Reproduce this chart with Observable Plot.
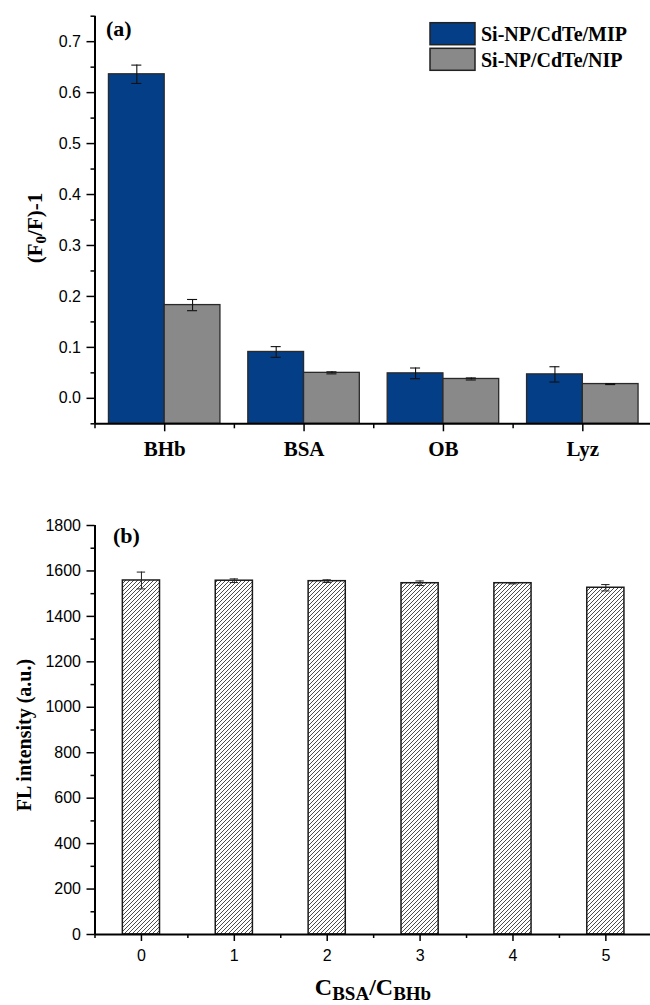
<!DOCTYPE html>
<html>
<head>
<meta charset="utf-8">
<script src="https://cdn.jsdelivr.net/npm/d3@7"></script>
<script src="https://cdn.jsdelivr.net/npm/@observablehq/plot@0.6"></script>
<style>
  html, body { margin: 0; padding: 0; background: #fff; }
  #wrap { position: relative; width: 650px; height: 1005px; overflow: hidden; }
  #chartA, #chartB, #overlay { position: absolute; left: 0; }
  #chartA { top: 0; }
  #chartB { top: 490px; }
  #overlay { top: 0; pointer-events: none; }
  .serif { font-family: "Liberation Serif", "Times New Roman", serif; font-weight: bold; }
</style>
</head>
<body>
<div id="wrap">
  <div id="chartA"></div>
  <div id="chartB"></div>
  <svg id="overlay" width="650" height="1005"></svg>
</div>
<script>
// Panel (a): selectivity of imprinted vs non-imprinted sensor
const proteins = ["BHb", "BSA", "OB", "Lyz"];
const seriesNames = ["Si-NP/CdTe/MIP", "Si-NP/CdTe/NIP"];
const seriesColors = ["#043e86", "#898989"];
const mipValues = [0.636, 0.091, 0.049, 0.047];
const mipErrors = [0.018, 0.0105, 0.0105, 0.015];
const nipValues = [0.183, 0.050, 0.038, 0.028];
const nipErrors = [0.011, 0.002, 0.002, 0.001];
const yTicksA = [0, 0.1, 0.2, 0.3, 0.4, 0.5, 0.6, 0.7];
const yMinorA = [-0.05, 0.05, 0.15, 0.25, 0.35, 0.45, 0.55, 0.65, 0.75];

// Panel (b): fluorescence intensity with increasing BSA
const ratios = [0, 1, 2, 3, 4, 5];
const flValues = [1558, 1557, 1555, 1546, 1546, 1526];
const flErrors = [37, 8, 6, 10, 3, 14];
const yTicksB = [0, 200, 400, 600, 800, 1000, 1200, 1400, 1600, 1800];
const yMinorB = [100, 300, 500, 700, 900, 1100, 1300, 1500, 1700];

const sansFont = "'Liberation Sans', Arial, sans-serif";
const serifFont = "'Liberation Serif', 'Times New Roman', serif";
const tickFontSize = 16;

// Rows for the grouped bars: MIP on the left half of each group, NIP on the right
const rowsA = [];
proteins.forEach((p, i) => {
  rowsA.push({i, series: seriesNames[0], v: mipValues[i], e: mipErrors[i], x1: i - 0.4, x2: i, c: i - 0.2});
  rowsA.push({i, series: seriesNames[1], v: nipValues[i], e: nipErrors[i], x1: i, x2: i + 0.4, c: i + 0.2});
});
const yMinA = -0.05, yMaxA = 0.75;
const capA = 0.036;

const chartA = Plot.plot({
  width: 650,
  height: 480,
  marginLeft: 94.5,
  marginRight: -2,
  marginTop: 15.7,
  marginBottom: 56.7,
  x: {domain: [-0.5, proteins.length - 0.5]},
  y: {domain: [yMinA, yMaxA]},
  color: {domain: seriesNames, range: seriesColors},
  style: {fontFamily: sansFont, color: "#000", background: "transparent"},
  marks: [
    Plot.rectY(rowsA, {x1: "x1", x2: "x2", y1: yMinA, y2: "v", fill: "series", stroke: "#2a2a2a", strokeWidth: 1.3}),
    Plot.ruleX(rowsA, {x: "c", y1: d => d.v - d.e, y2: d => d.v + d.e, stroke: "#111", strokeWidth: 1.1}),
    Plot.ruleY(rowsA, {y: d => d.v + d.e, x1: d => d.c - capA, x2: d => d.c + capA, stroke: "#111", strokeWidth: 1.1}),
    Plot.ruleY(rowsA, {y: d => d.v - d.e, x1: d => d.c - capA, x2: d => d.c + capA, stroke: "#111", strokeWidth: 1.1}),
    Plot.axisY(yTicksA, {tickSize: 8, tickPadding: 6, tickFormat: d3.format(".1f"), label: null, strokeWidth: 1.5,
      fontFamily: sansFont, fontSize: tickFontSize}),
    Plot.axisY(yMinorA, {tickSize: 4, tickFormat: () => "", label: null, strokeWidth: 1.5}),
    Plot.axisX(d3.range(proteins.length), {tickSize: 8, tickPadding: 9, tickFormat: i => proteins[i], label: null,
      fontFamily: serifFont, fontSize: 21, fontWeight: "bold", strokeWidth: 1.5}),
    Plot.axisX(d3.range(proteins.length + 1).map(i => i - 0.5), {tickSize: 5, tickFormat: () => "", label: null, strokeWidth: 1.5}),
    Plot.ruleX([-0.5], {strokeWidth: 2}),
    Plot.ruleY([yMinA], {strokeWidth: 2})
  ]
});
document.getElementById("chartA").append(chartA);

// Panel (b)
const rowsB = ratios.map((r, i) => ({r, v: flValues[i], e: flErrors[i]}));
const capB = 0.045;
const chartB = Plot.plot({
  width: 650,
  height: 515,
  marginLeft: 94.5,
  marginRight: -1.8,
  marginTop: 35,
  marginBottom: 71,
  x: {domain: [-0.5, ratios.length - 0.5]},
  y: {domain: [0, 1800]},
  style: {fontFamily: sansFont, color: "#000", background: "transparent"},
  marks: [
    Plot.rectY(rowsB, {x1: d => d.r - 0.2, x2: d => d.r + 0.2, y1: 0, y2: "v", fill: "url(#hatch)", stroke: "#1a1a1a", strokeWidth: 1.5}),
    Plot.ruleX(rowsB, {x: "r", y1: d => d.v - d.e, y2: d => d.v + d.e, stroke: "#222", strokeWidth: 1}),
    Plot.ruleY(rowsB, {y: d => d.v + d.e, x1: d => d.r - capB, x2: d => d.r + capB, stroke: "#222", strokeWidth: 1}),
    Plot.ruleY(rowsB, {y: d => d.v - d.e, x1: d => d.r - capB, x2: d => d.r + capB, stroke: "#222", strokeWidth: 1}),
    Plot.axisY(yTicksB, {tickSize: 8, tickPadding: 6, tickFormat: d3.format("d"), label: null, strokeWidth: 1.5,
      fontFamily: sansFont, fontSize: tickFontSize}),
    Plot.axisY(yMinorB, {tickSize: 4, tickFormat: () => "", label: null, strokeWidth: 1.5}),
    Plot.axisX(ratios, {tickSize: 7, tickPadding: 8, tickFormat: d3.format("d"), label: null, strokeWidth: 1.5,
      fontFamily: sansFont, fontSize: tickFontSize}),
    Plot.axisX(ratios.concat([ratios.length]).map(r => r - 0.5), {tickSize: 4, tickFormat: () => "", label: null, strokeWidth: 1.5}),
    Plot.ruleX([-0.5], {strokeWidth: 2}),
    Plot.ruleY([0], {strokeWidth: 2})
  ]
});
// Diagonal hatch used to fill the bars of panel (b)
const defs = d3.select(chartB).insert("defs", ":first-child");
const pat = defs.append("pattern")
  .attr("id", "hatch").attr("patternUnits", "userSpaceOnUse")
  .attr("width", 4).attr("height", 4);
pat.append("rect").attr("width", 4).attr("height", 4).attr("fill", "#fff");
pat.append("path").attr("d", "M-1,1 l2,-2 M0,4 l4,-4 M3,5 l2,-2")
  .attr("stroke", "#3a3a3a").attr("stroke-width", 0.9);
document.getElementById("chartB").append(chartB);

// Panel labels, axis titles and legend
const ov = d3.select("#overlay");
ov.append("text").attr("class", "serif").attr("x", 106).attr("y", 36).attr("font-size", 22).text("(a)");
ov.append("text").attr("class", "serif").attr("x", 113).attr("y", 543).attr("font-size", 22).text("(b)");

const legendY = [22.7, 48.3];
seriesNames.forEach((name, k) => {
  ov.append("rect").attr("x", 430).attr("y", legendY[k]).attr("width", 45).attr("height", 22)
    .attr("fill", seriesColors[k]).attr("stroke", "#222").attr("stroke-width", 1.5);
  ov.append("text").attr("class", "serif").attr("x", 481).attr("y", legendY[k] + 18.5)
    .attr("font-size", 20).text(name);
});

const ya = ov.append("text").attr("class", "serif").attr("font-size", 21)
  .attr("text-anchor", "middle").attr("transform", "translate(42,228) rotate(-90)");
ya.append("tspan").text("(F");
ya.append("tspan").attr("dy", 4).attr("font-size", 15).text("0");
ya.append("tspan").attr("dy", -4).text("/F)-1");

ov.append("text").attr("class", "serif").attr("font-size", 20)
  .attr("text-anchor", "middle").attr("transform", "translate(31,735) rotate(-90)")
  .text("FL intensity (a.u.)");

const xb = ov.append("text").attr("class", "serif").attr("font-size", 24)
  .attr("text-anchor", "middle").attr("x", 373).attr("y", 995);
xb.append("tspan").text("C");
xb.append("tspan").attr("dy", 5).attr("font-size", 19).text("BSA");
xb.append("tspan").attr("dy", -5).text("/C");
xb.append("tspan").attr("dy", 5).attr("font-size", 19).text("BHb");
</script>
</body>
</html>
